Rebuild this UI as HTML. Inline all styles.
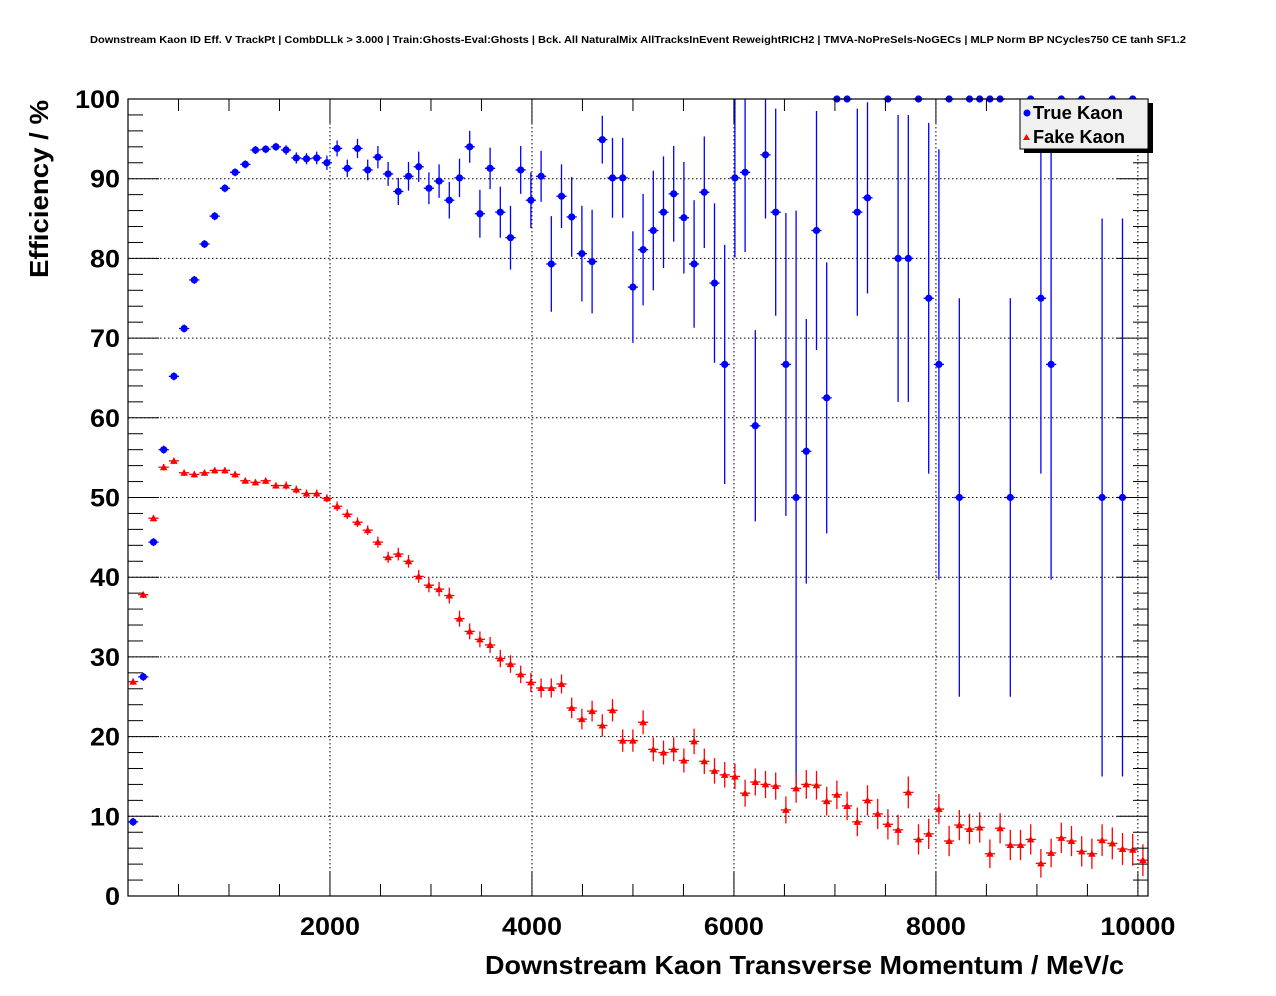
<!DOCTYPE html>
<html><head><meta charset="utf-8"><style>
body{margin:0;background:#fff;}
svg{display:block;font-family:"Liberation Sans",sans-serif;}
</style></head><body>
<svg id="chart" width="1276" height="996" viewBox="0 0 1276 996">
<rect x="0" y="0" width="1276" height="996" fill="#fff"/>
<text x="90" y="43" textLength="1096" lengthAdjust="spacingAndGlyphs" font-size="10.5" font-weight="bold">Downstream Kaon ID Eff. V TrackPt | CombDLLk &gt; 3.000 | Train:Ghosts-Eval:Ghosts | Bck. All NaturalMix AllTracksInEvent ReweightRICH2 | TMVA-NoPreSels-NoGECs | MLP Norm BP NCycles750 CE tanh SF1.2</text>
<g id="grid"></g>
<g id="marks"></g>
<rect x="128" y="99" width="1020" height="797" fill="none" stroke="#000" stroke-width="1.2"/>
<g id="axes"></g>
<text transform="translate(48,278) rotate(-90)" textLength="178" lengthAdjust="spacingAndGlyphs" font-size="26" font-weight="bold">Efficiency / %</text>
<text x="485" y="974" textLength="639" lengthAdjust="spacingAndGlyphs" font-size="26" font-weight="bold">Downstream Kaon Transverse Momentum / MeV/c</text>
<g>
<rect x="1024" y="103" width="129" height="50" fill="#000"/>
<rect x="1020" y="99" width="128" height="50" fill="#f0f0f0" stroke="#000" stroke-width="1"/>
<circle cx="1027" cy="113" r="3.5" fill="#0000ff"/>
<text x="1033" y="119" textLength="90" lengthAdjust="spacingAndGlyphs" font-size="18" font-weight="bold">True Kaon</text>
<polygon points="1023,140 1030,140 1026.5,134" fill="#ff0000"/>
<text x="1033" y="143" textLength="92" lengthAdjust="spacingAndGlyphs" font-size="18" font-weight="bold">Fake Kaon</text>
</g>
</svg>
<script>
const binWidth = 101;
const xTicks = [2000, 4000, 6000, 8000, 10000];
const yTicks = [0, 10, 20, 30, 40, 50, 60, 70, 80, 90, 100];
const trueVals = [9.3,27.5,44.4,56,65.2,71.2,77.3,81.8,85.3,88.8,90.8,91.8,93.6,93.7,94,93.6,92.6,92.5,92.6,92,93.8,91.3,93.8,91.1,92.7,90.6,88.4,90.3,91.5,88.8,89.7,87.3,90.1,94,85.6,91.3,85.8,82.6,91.1,87.3,90.3,79.3,87.8,85.2,80.6,79.6,94.9,90.1,90.1,76.4,81.1,83.5,85.8,88.1,85.1,79.3,88.3,76.9,66.7,90.1,90.8,59,93,85.8,66.7,50,55.8,83.5,62.5,100,100,85.8,87.6,null,100,80,80,100,75,66.7,100,50,100,100,100,100,50,null,100,75,66.7,100,null,100,null,50,100,50,100,null];
const trueErr = [0.5,0.5,0.5,0.5,0.5,0.5,0.5,0.5,0.5,0.5,0.5,0.5,0.5,0.5,0.5,0.6,0.7,0.7,0.8,0.9,1,1.1,1.2,1.3,1.4,1.5,1.7,1.8,1.9,2,2.1,2.3,2.4,2,3,2.6,3.2,4,3,3.5,3.2,6,4,5,6,6.5,3,5,5,7,7,7.5,7,6,7,8,7,10,15,10,10,12,8,13,19,36,16.6,15,17,0,0,13,12,0,0,18,18,0,22,27,0,25,0,0,0,0,25,0,0,22,27,0,0,0,0,35,0,35,0,0];
const fakeVals = [26.9,37.8,47.4,53.8,54.6,53.1,52.9,53.1,53.4,53.4,52.9,52.1,51.9,52.1,51.5,51.5,51,50.5,50.5,49.9,48.9,47.9,46.9,45.9,44.4,42.5,42.9,42,40.1,39,38.5,37.7,34.8,33.2,32.2,31.5,29.8,29.1,27.8,26.8,26.1,26.1,26.6,23.6,22.2,23.2,21.4,23.3,19.5,19.5,21.8,18.4,18,18.4,17,19.4,16.9,15.7,15.2,15,12.9,14.3,14,13.8,10.8,13.5,14,13.9,11.9,12.7,11.3,9.3,12,10.3,9,8.3,13,7.1,7.8,10.9,6.9,8.9,8.4,8.6,5.3,8.5,6.4,6.4,7.1,4.1,5.4,7.3,6.9,5.6,5.3,7,6.6,5.9,5.8,4.5];
const fakeErr = [0.4,0.4,0.4,0.4,0.4,0.4,0.4,0.4,0.4,0.4,0.4,0.4,0.4,0.4,0.4,0.5,0.5,0.5,0.5,0.5,0.6,0.6,0.6,0.6,0.7,0.7,0.8,0.8,0.8,0.9,0.9,1,1,1,1,1,1.1,1.1,1.1,1.2,1.2,1.2,1.2,1.3,1.3,1.3,1.4,1.4,1.4,1.4,1.5,1.5,1.5,1.5,1.5,1.6,1.6,1.6,1.6,1.6,1.7,1.7,1.7,1.7,1.7,1.8,1.8,1.8,1.8,1.8,1.8,1.8,1.9,1.9,1.9,1.9,2,1.9,1.9,1.9,1.9,1.9,1.9,1.9,1.8,1.9,1.9,1.9,1.9,1.8,1.8,1.9,1.9,1.9,1.9,2,2,2,2,2];

const NS = "http://www.w3.org/2000/svg";
const X0 = 128, X1 = 1148, Y0 = 896, Y1 = 99, XMAX = 10100, YMAX = 100;
function xs(v){ return X0 + v * (X1 - X0) / XMAX; }
function ys(v){ return Y0 - v * (Y0 - Y1) / YMAX; }
function mk(tag, attrs, parent){ const e = document.createElementNS(NS, tag); for (const k in attrs) e.setAttribute(k, attrs[k]); parent.appendChild(e); return e; }
const grid = document.getElementById('grid'), axes = document.getElementById('axes'), marks = document.getElementById('marks');

xTicks.forEach(t => {
  const g = mk('line', {x1: xs(t), x2: xs(t), y1: Y1, y2: Y0, stroke: '#000', 'stroke-dasharray': '1.5,2.5'}, grid);
  
  
  const w = String(t).length * 15;
  const lb = mk('text', {x: xs(t) - w / 2, y: 935, textLength: w, lengthAdjust: 'spacingAndGlyphs', 'font-size': 25, 'font-weight': 'bold'}, axes);
  lb.textContent = t;
  
  
});
for (let v = 0; v <= XMAX; v += 500) {
  const len = v % 2000 === 0 ? 24 : 12;
  mk('line', {x1: xs(v), x2: xs(v), y1: Y0, y2: Y0 - len, stroke: '#000'}, axes);
  mk('line', {x1: xs(v), x2: xs(v), y1: Y1, y2: Y1 + len, stroke: '#000'}, axes);
}
yTicks.forEach(t => {
  if (t > 0 && t < 100) {
    const g = mk('line', {x1: X0, x2: X1, y1: ys(t), y2: ys(t), stroke: '#000', 'stroke-dasharray': '1.5,2.5'}, grid);
    
    
  }
  const w = String(t).length * 15;
  const lb = mk('text', {x: 120 - w, y: ys(t) + 9, textLength: w, lengthAdjust: 'spacingAndGlyphs', 'font-size': 25, 'font-weight': 'bold'}, axes);
  lb.textContent = t;
  
  
});
for (let v = 0; v <= YMAX; v += 2) {
  const len = v % 10 === 0 ? 31 : 15;
  mk('line', {x1: X0, x2: X0 + len, y1: ys(v), y2: ys(v), stroke: '#000'}, axes);
  mk('line', {x1: X1, x2: X1 - len, y1: ys(v), y2: ys(v), stroke: '#000'}, axes);
}

function drawSeries(vals, errs, color, shape, name){
  vals.forEach((v, i) => {
    if (v === null) return;
    const c = (i + 0.5) * binWidth, e = errs[i];
    const g = mk('g', {}, marks);
    
    
    mk('line', {x1: xs(c - binWidth/2), x2: xs(c + binWidth/2), y1: ys(v), y2: ys(v), stroke: color, 'stroke-width': 1.3}, g);
    const top = Math.min(ys(v + e), ys(v)), bot = ys(Math.max(v - e, 0));
    mk('line', {x1: xs(c), x2: xs(c), y1: Math.max(top, Y1), y2: bot, stroke: color, 'stroke-width': 1.3}, g);
    if (shape === 'circle') mk('circle', {cx: xs(c), cy: ys(v), r: 3.6, fill: color}, g);
    else { const x = xs(c), y = ys(v); mk('polygon', {points: `${x-3.8},${y+3} ${x+3.8},${y+3} ${x},${y-3.6}`, fill: color}, g); }
  });
}
drawSeries(trueVals, trueErr, '#0000ff', 'circle', 'true-kaon');
drawSeries(fakeVals, fakeErr, '#ff0000', 'triangle', 'fake-kaon');
</script>
</body></html>
